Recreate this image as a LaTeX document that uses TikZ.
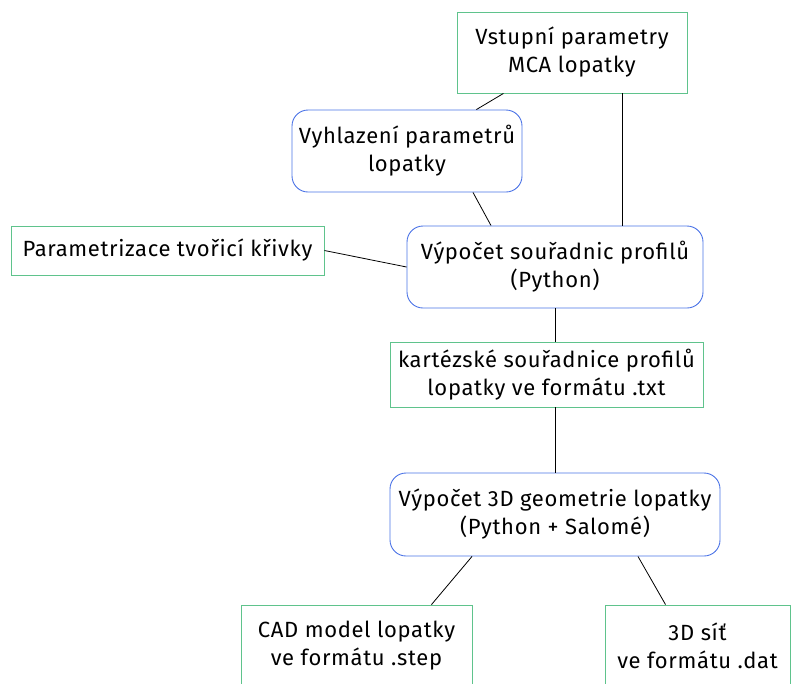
\documentclass[tikz,border=0pt]{standalone}
\usepackage{fontspec}
\setmainfont{Fira Sans}[LetterSpace=3]
\definecolor{gcol}{RGB}{95,195,140}
\definecolor{bcol}{RGB}{75,115,230}
\begin{document}
\begin{tikzpicture}[x=1pt,y=-1pt,
  base/.style={align=center,inner sep=0pt,line width=0.9pt,font=\fontsize{22}{28}\selectfont},
  gbox/.style={base,draw=gcol,rectangle},
  bbox/.style={base,draw=bcol,rounded corners=16pt},
  conn/.style={line width=0.8pt,draw=black}]
\useasboundingbox (0,0) rectangle (791,683);
\node[gbox,minimum width=230pt,minimum height=81pt] (n1) at (572,52.5) {Vstupní parametry\\MCA lopatky};
\node[bbox,minimum width=230pt,minimum height=82pt] (n2) at (407,151) {Vyhlazení parametrů\\lopatky};
\node[gbox,minimum width=313pt,minimum height=49pt] (n3) at (167.5,250.5) {Parametrizace tvořicí křivky};
\node[bbox,minimum width=296pt,minimum height=82pt] (n4) at (555,267) {Výpočet souřadnic profilů\\(Python)};
\node[gbox,minimum width=313pt,minimum height=65pt] (n5) at (546.5,374.5) {kartézské souřadnice profilů\\lopatky ve formátu .txt};
\node[bbox,minimum width=330pt,minimum height=83pt] (n6) at (555,514.5) {Výpočet 3D geometrie lopatky\\(Python + Salomé)};
\node[gbox,minimum width=231pt,minimum height=82pt] (n7) at (356.5,646) {CAD model lopatky\\ve formátu .step};
\node[gbox,minimum width=185pt,minimum height=82pt] (n8) at (697.5,646) {3D síť\\ve formátu .dat};
\draw[conn] (n1) -- (n2);
\draw[conn] ([xshift=50pt]n1.south) -- ([xshift=50pt]n1.south |- n4.north);
\draw[conn] ([xshift=66pt]n2.south) -- ([xshift=-64pt]n4.north);
\draw[conn] (n3.east) -- (n4.west);
\draw[conn] (n4.south) -- (n4.south |- n5.north);
\draw[conn] (n6.north |- n5.south) -- (n6.north);
\draw[conn] ([xshift=-83pt]n6.south) -- ([xshift=75pt]n7.north);
\draw[conn] ([xshift=83pt]n6.south) -- ([xshift=-32pt]n8.north);
\end{tikzpicture}
\end{document}
